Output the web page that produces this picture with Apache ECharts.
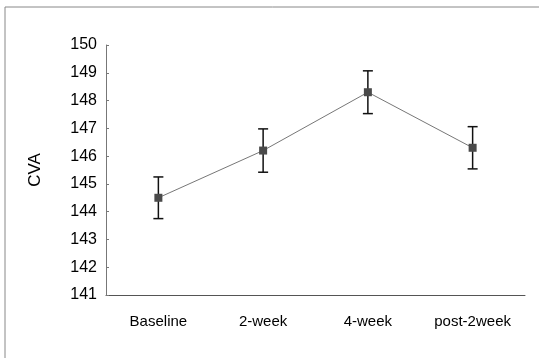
<!DOCTYPE html>
<html lang="en">
<head>
<meta charset="UTF-8">
<title>CVA</title>
<script src="https://cdn.jsdelivr.net/npm/echarts@6/dist/echarts.min.js"></script>
<style>
  html, body { margin: 0; padding: 0; background: #fff; }
  #dv { width: 539px; height: 358px; }
</style>
</head>
<body>
<div id="dv"></div>
<script>
var categories = ['Baseline', '2-week', '4-week', 'post-2week'];
var means = [144.5, 146.2, 148.3, 146.3];
var errs = [0.75, 0.78, 0.77, 0.76];
var yTicks = [141, 142, 143, 144, 145, 146, 147, 148, 149, 150];

var myChart = echarts.init(document.getElementById('dv'));

var errData = categories.map(function (c, i) {
    return [i, means[i] - errs[i], means[i] + errs[i]];
});

var font = 'Liberation Sans, Arial, sans-serif';

var option = {
    backgroundColor: '#fff',
    animation: false,
    graphic: [{
        type: 'rect',
        shape: { x: 5, y: 7, width: 600, height: 400 },
        style: { fill: 'none', stroke: '#888', lineWidth: 1 },
        silent: true
    }],
    grid: { left: 106, top: 45, right: 14, bottom: 63 },
    xAxis: {
        type: 'category',
        data: categories,
        boundaryGap: true,
        axisLine: { lineStyle: { color: '#555', width: 1 } },
        axisTick: { inside: true, length: 4, lineStyle: { color: '#555' } },
        axisLabel: { color: '#000', fontSize: 15, fontFamily: font, margin: 19 }
    },
    yAxis: {
        type: 'value',
        min: yTicks[0],
        max: yTicks[yTicks.length - 1],
        interval: 1,
        name: 'CVA',
        nameLocation: 'middle',
        nameGap: 62,
        nameTextStyle: { color: '#000', fontSize: 17, fontFamily: font },
        axisLine: { show: true, lineStyle: { color: '#777', width: 1 } },
        axisTick: { show: true, inside: true, length: 3, lineStyle: { color: '#777' } },
        splitLine: { show: false },
        axisLabel: { color: '#000', fontSize: 16, fontFamily: font, margin: 9 }
    },
    series: [
        {
            type: 'line',
            data: means,
            symbol: 'rect',
            symbolSize: 8,
            lineStyle: { color: '#777', width: 1 },
            itemStyle: { color: '#4a4a4a' },
            z: 3
        },
        {
            type: 'custom',
            data: errData,
            z: 2,
            renderItem: function (params, api) {
                var x = api.value(0);
                var lo = api.coord([x, api.value(1)]);
                var hi = api.coord([x, api.value(2)]);
                var hw = 5;
                var st = { stroke: '#111', lineWidth: 1.5 };
                return {
                    type: 'group',
                    children: [
                        { type: 'line', shape: { x1: lo[0], y1: lo[1], x2: hi[0], y2: hi[1] }, style: st },
                        { type: 'line', shape: { x1: hi[0] - hw, y1: hi[1], x2: hi[0] + hw, y2: hi[1] }, style: st },
                        { type: 'line', shape: { x1: lo[0] - hw, y1: lo[1], x2: lo[0] + hw, y2: lo[1] }, style: st }
                    ]
                };
            }
        }
    ]
};
myChart.setOption(option);
</script>
</body>
</html>
